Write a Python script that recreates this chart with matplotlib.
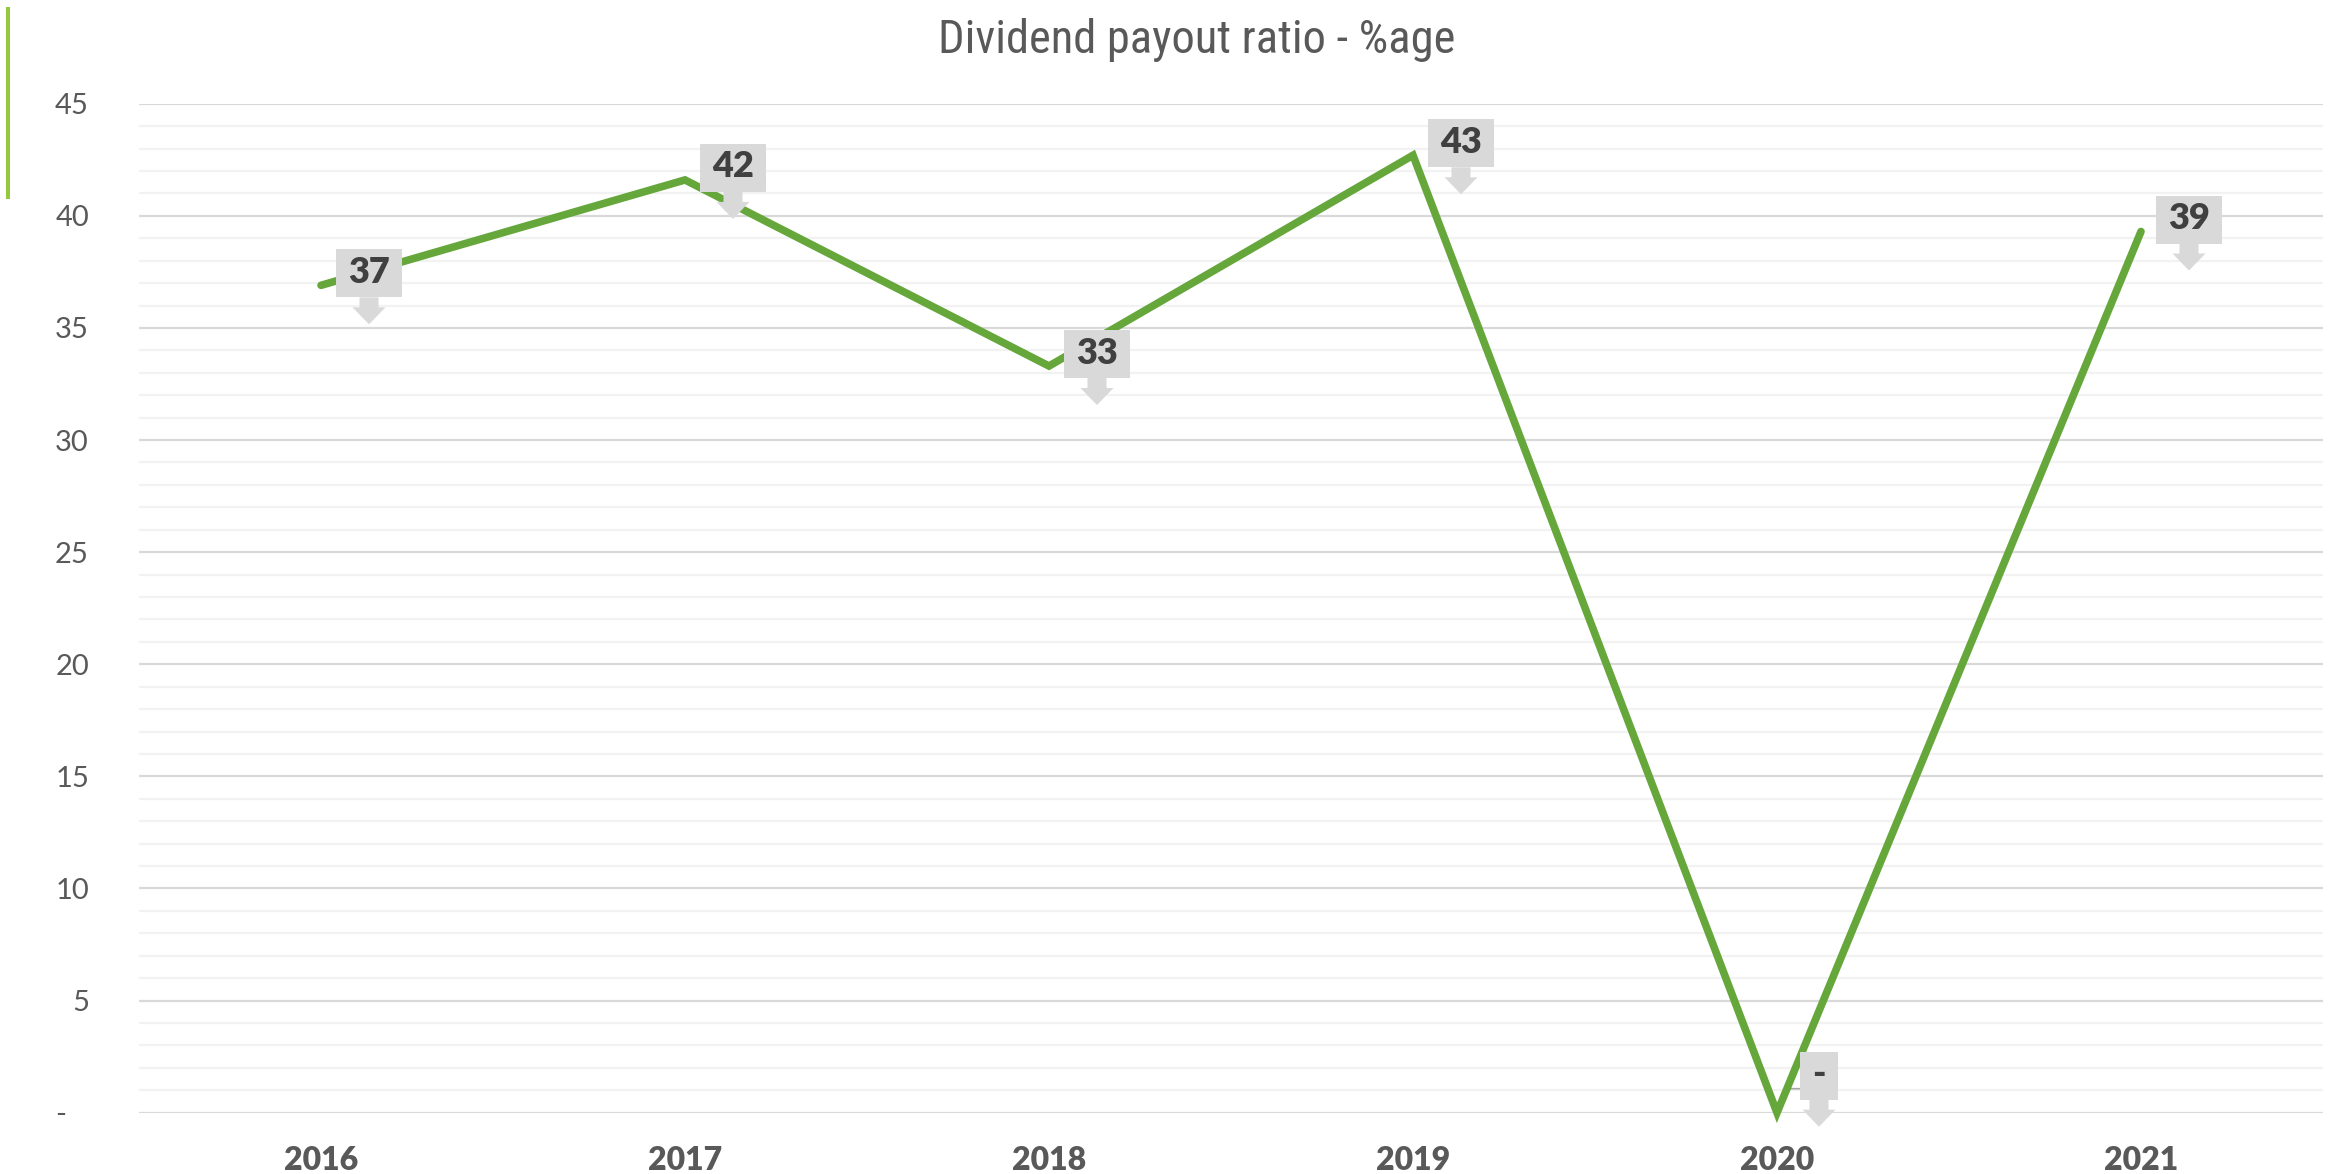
import matplotlib
matplotlib.use('Agg')
import matplotlib.pyplot as plt
import matplotlib.transforms as mtransforms
from matplotlib.patches import Polygon, Rectangle
from matplotlib.lines import Line2D

YEARS = ['2016', '2017', '2018', '2019', '2020', '2021']
PAYOUT = [36.9, 41.6, 33.3, 42.7, 0.0, 39.3]
LABELS = ['37', '42', '33', '43', '-', '39']
YTICKS = [0, 5, 10, 15, 20, 25, 30, 35, 40, 45]
YTICK_LABELS = ['-   ', '5', '10', '15', '20', '25', '30', '35', '40', '45']
TITLE = 'Dividend payout ratio - %age'

GREEN = '#65A73A'
BOX = '#D9D9D9'
TEXT = '#595959'
LABEL_TEXT = '#404040'


def callout(ax, x, y, text, box_w, dx, dy):
    # pixel-offset shapes anchored on the data point
    trans = mtransforms.ScaledTranslation(x, y, ax.transData)
    hw, hh = box_w / 2, 24
    ax.add_patch(Rectangle((dx - hw, dy - hh), box_w, 2 * hh, transform=trans,
                           facecolor=BOX, edgecolor='none', zorder=4, clip_on=False))
    base = dy - hh
    arrow = [(dx - 9.5, base), (dx + 9.5, base), (dx + 9.5, base - 10),
             (dx + 16.5, base - 10), (dx, base - 27), (dx - 16.5, base - 10),
             (dx - 9.5, base - 10)]
    ax.add_patch(Polygon(arrow, closed=True, transform=trans, facecolor=BOX,
                         edgecolor='none', zorder=4, clip_on=False))
    ax.annotate(text, (x, y), xytext=(dx, dy + 1), textcoords='offset pixels',
                ha='center', va='center', fontsize=26, fontweight='heavy',
                family=['Lato', 'DejaVu Sans'], color=LABEL_TEXT, zorder=5,
                annotation_clip=False)


def main():
    fig = plt.figure(figsize=(23.31, 11.74), dpi=100)
    ax = fig.add_axes([139 / 2331, 1 - 1112.7 / 1174, 2184 / 2331, (1112.7 - 103.7) / 1174])

    xs = list(range(len(YEARS)))
    ax.set_xlim(-0.5, len(YEARS) - 0.5)
    ax.set_ylim(0, 45)

    for v in range(0, 46):
        major = v % 5 == 0
        ax.axhline(v, color='#D9D9D9' if major else '#F2F2F2',
                   linewidth=1.6, zorder=1 if major else 0)

    ax.plot(xs, PAYOUT, color=GREEN, linewidth=5.5, solid_capstyle='round',
            solid_joinstyle='miter', zorder=3, clip_on=False)

    for x, y, lab in zip(xs, PAYOUT, LABELS):
        if lab == '-':
            # leader line for the zero point
            trans = mtransforms.ScaledTranslation(x, y, ax.transData)
            ax.add_line(Line2D([23, 13, 2], [24, 24, 1], transform=trans,
                               color='#A6A6A6', linewidth=1.2, zorder=2))
            callout(ax, x, y, lab, 38, 42, 37)
        else:
            callout(ax, x, y, lab, 66, 48, 12)

    ax.set_xticks(xs)
    ax.set_xticklabels(YEARS, fontsize=23, fontweight='heavy', color=TEXT,
                       family=['Lato', 'DejaVu Sans'])
    ax.set_yticks(YTICKS)
    ax.set_yticklabels(YTICK_LABELS, fontsize=21, color=TEXT,
                       family=['Lato', 'DejaVu Sans'])
    ax.tick_params(axis='x', length=0, pad=24)
    ax.tick_params(axis='y', length=0, pad=36)
    for s in ax.spines.values():
        s.set_visible(False)

    fig.text(1197 / 2331, 1 - 40 / 1174, TITLE, ha='center', va='center',
             fontsize=33.5, color=TEXT, fontstretch='condensed',
             family=['Roboto Condensed', 'Open Sans Condensed', 'Roboto', 'DejaVu Sans'])

    fig.add_artist(Rectangle((6 / 2331, 1 - 199 / 1174), 4 / 2331, 192 / 1174,
                             transform=fig.transFigure, facecolor='#94C83D',
                             edgecolor='none'))

    fig.savefig('out.png', dpi=100, facecolor='white')


if __name__ == '__main__':
    main()
